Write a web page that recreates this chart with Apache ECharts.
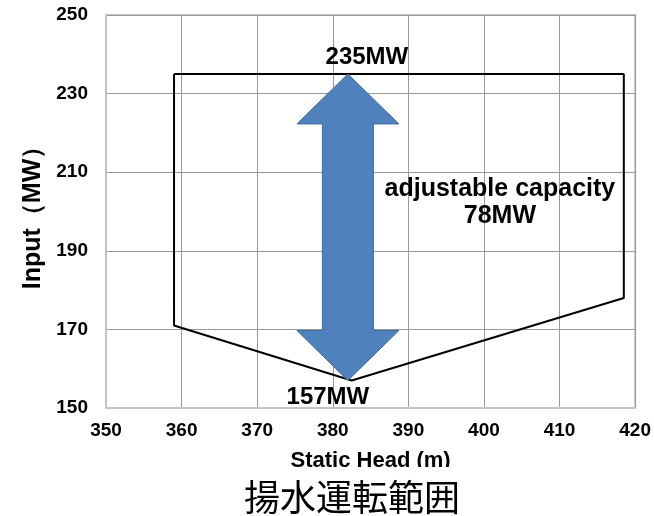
<!DOCTYPE html>
<html>
<head>
<meta charset="utf-8">
<script src="https://cdn.jsdelivr.net/npm/echarts@6/dist/echarts.min.js"></script>
<style>
  html, body { margin: 0; padding: 0; background: #fff; }
  #chart { width: 654px; height: 516px; }
</style>
</head>
<body>
<div id="chart"></div>
<script>
// Pumping-mode operating range: static head (m) against input power (MW)
const headTicks = [350, 360, 370, 380, 390, 400, 410, 420];
const inputTicks = [150, 170, 190, 210, 230, 250];

// Outline of the operating envelope, walked clockwise from the upper-left corner
const envelopeHead  = [359, 418.5, 418.5, 382.5, 359, 359];
const envelopeInput = [235, 235, 178, 157, 171, 235];

// Adjustable range of input shown by the double arrow
const arrowHeadM = 382;
const inputMaxMW = 235;
const inputMinMW = 157;

const titleText = '揚水運転範囲';
const xName = 'Static Head (m)';
const yName = 'Input（MW）';

const FONT = '"Liberation Sans", Arial, sans-serif';
const envelopeData = envelopeHead.map((h, i) => [h, envelopeInput[i]]);

const chart = echarts.init(document.getElementById('chart'));

chart.setOption({
  animation: false,
  backgroundColor: '#fff',
  grid: {
    left: 106, right: 18, top: 15, bottom: 108,
    show: true, borderColor: '#c4c4c4', borderWidth: 2
  },
  xAxis: {
    type: 'value',
    min: headTicks[0],
    max: headTicks[headTicks.length - 1],
    interval: headTicks[1] - headTicks[0],
    name: xName,
    nameLocation: 'middle',
    nameGap: 42,
    nameTextStyle: { fontFamily: FONT, fontWeight: 'bold', fontSize: 22, color: '#000' },
    axisLine: { show: true, lineStyle: { color: '#c4c4c4', width: 2 } },
    axisTick: { show: false },
    axisLabel: { fontFamily: FONT, fontWeight: 'bold', fontSize: 19, color: '#000', margin: 13 },
    splitLine: { show: true, lineStyle: { color: '#999', width: 1 } }
  },
  yAxis: {
    type: 'value',
    min: inputTicks[0],
    max: inputTicks[inputTicks.length - 1],
    interval: inputTicks[1] - inputTicks[0],
    name: yName,
    nameLocation: 'middle',
    nameGap: 58,
    nameTextStyle: { fontFamily: FONT, fontWeight: 'bold', fontSize: 25, color: '#000' },
    axisLine: { show: true, lineStyle: { color: '#c4c4c4', width: 2 } },
    axisTick: { show: false },
    axisLabel: { fontFamily: FONT, fontWeight: 'bold', fontSize: 19, color: '#000', margin: 18 },
    splitLine: { show: true, lineStyle: { color: '#999', width: 1 } }
  },
  series: [
    {
      type: 'line',
      data: envelopeData,
      symbol: 'none',
      lineStyle: { color: '#000', width: 2 },
      z: 3
    },
    {
      type: 'custom',
      data: [[arrowHeadM, inputMinMW, inputMaxMW]],
      z: 4,
      renderItem(params, api) {
        const top = api.coord([api.value(0), api.value(2)]);
        const bot = api.coord([api.value(0), api.value(1)]);
        const x = top[0];
        const headHalf = 51, shaftHalf = 25.5, headLen = 50;
        const pts = [
          [x, top[1]],
          [x + headHalf, top[1] + headLen],
          [x + shaftHalf, top[1] + headLen],
          [x + shaftHalf, bot[1] - headLen],
          [x + headHalf, bot[1] - headLen],
          [x, bot[1]],
          [x - headHalf, bot[1] - headLen],
          [x - shaftHalf, bot[1] - headLen],
          [x - shaftHalf, top[1] + headLen],
          [x - headHalf, top[1] + headLen]
        ];
        const labelFont = 'bold 24px ' + FONT;
        const span = api.value(2) - api.value(1);
        return {
          type: 'group',
          children: [
            {
              type: 'polygon',
              shape: { points: pts },
              style: { fill: '#4f81bd', stroke: '#3f6c9f', lineWidth: 1 }
            },
            {
              type: 'text',
              x: x + 19, y: top[1] - 17,
              style: { text: api.value(2) + 'MW', font: labelFont, fill: '#000', align: 'center', verticalAlign: 'middle' }
            },
            {
              type: 'text',
              x: x - 20, y: bot[1] + 17,
              style: { text: api.value(1) + 'MW', font: labelFont, fill: '#000', align: 'center', verticalAlign: 'middle' }
            },
            {
              type: 'text',
              x: x + 152, y: (top[1] + bot[1]) / 2 - 25,
              style: {
                text: 'adjustable capacity\n' + span + 'MW',
                font: 'bold 25px ' + FONT, lineHeight: 27,
                fill: '#000', align: 'center', verticalAlign: 'middle'
              }
            }
          ]
        };
      }
    }
  ],
  graphic: [
    {
      type: 'rect',
      shape: { x: 0, y: 467, width: 654, height: 49 },
      style: { fill: '#fff' },
      z: 100
    },
    {
      type: 'text',
      x: 352, y: 497,
      style: {
        text: titleText,
        font: '36px "Noto Sans CJK JP", sans-serif',
        fill: '#000', align: 'center', verticalAlign: 'middle'
      },
      z: 101
    }
  ]
});
</script>
</body>
</html>
